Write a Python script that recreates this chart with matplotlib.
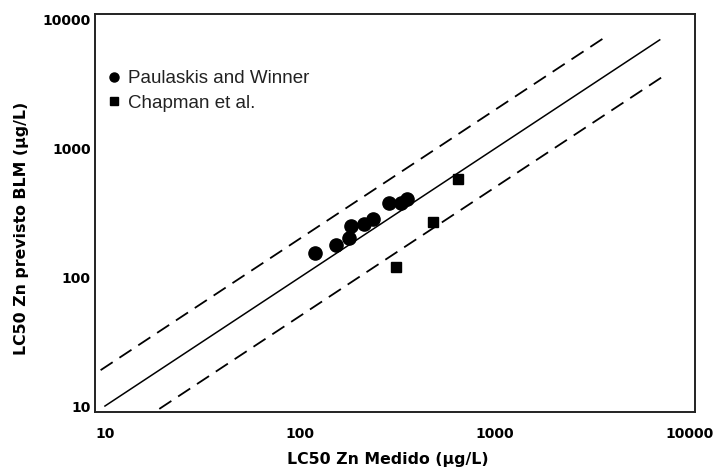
import matplotlib

matplotlib.use("Agg")
import matplotlib.pyplot as plt
from matplotlib.lines import Line2D
import numpy as np

# Paulaskis and Winner: measured vs BLM-predicted LC50 (ug/L)
pw_measured = [120, 153, 179, 183, 212, 237, 285, 331, 355]
pw_predicted = [155, 179, 201, 251, 258, 285, 380, 376, 408]

# Chapman et al.
ch_measured = [310, 480, 644]
ch_predicted = [120, 270, 581]

# 1:1 line and factor-of-two bounds
ref_range = [10, 7000]
upper_range = [9.5, 3600]
lower_range = [19, 7600]
factor = 2.0

ticks = [10, 100, 1000, 10000]
tick_labels = ["10", "100", "1000", "10000"]

fig = plt.figure(figsize=(7.22, 4.70), dpi=100)
ax = fig.add_axes([95 / 722, 1 - 411.7 / 470, 600 / 722, 397.7 / 470])

ax.set_xscale("log")
ax.set_yscale("log")
ax.set_xlim(10 ** 0.949, 10 ** 4.026)
ax.set_ylim(10 ** 0.956, 10 ** 4.046)

x = np.array(ref_range)
ax.plot(x, x, color="black", lw=1.1)
xu = np.array(upper_range)
ax.plot(xu, xu * factor, color="black", lw=1.3, dashes=(8, 4.5))
xl = np.array(lower_range)
ax.plot(xl, xl / factor, color="black", lw=1.3, dashes=(8, 4.5))

ax.plot(pw_measured, pw_predicted, "o", color="black", ms=9.5, ls="none")
ax.plot(ch_measured, ch_predicted, "s", color="black", ms=7.2, ls="none")

handles = [
    Line2D([], [], marker="o", color="black", ls="none", ms=6.5),
    Line2D([], [], marker="s", color="black", ls="none", ms=5.5),
]
leg = ax.legend(handles, ["Paulaskis and Winner", "Chapman et al."],
                loc="upper left", bbox_to_anchor=(0.012, 0.878), frameon=False,
                handlelength=0.5, handletextpad=0.45, labelspacing=0.4,
                borderaxespad=0, prop={"family": "Liberation Sans", "size": 13.5})
for t in leg.get_texts():
    t.set_color("#222222")

ax.minorticks_off()
ax.set_xticks(ticks)
ax.set_xticklabels(tick_labels)
ax.set_yticks(ticks)
ax.set_yticklabels(tick_labels)
ax.tick_params(axis="both", length=0, labelsize=10)
ax.tick_params(axis="x", pad=11)
ax.tick_params(axis="y", pad=3)
for lab in ax.get_xticklabels() + ax.get_yticklabels():
    lab.set_fontweight("bold")

for sp in ax.spines.values():
    sp.set_linewidth(1.4)
    sp.set_color("#222222")

ax.set_xlabel("LC50 Zn Medido (\u00b5g/L)", fontsize=11.3, fontweight="bold")
ax.xaxis.set_label_coords(0.488, -0.119)
ax.xaxis.label.set_verticalalignment("center")
ax.set_ylabel("LC50 Zn previsto BLM (\u00b5g/L)", fontsize=11.3, fontweight="bold")
ax.yaxis.set_label_coords(-0.122, 0.46)
ax.yaxis.label.set_verticalalignment("center")

fig.savefig("out.png", dpi=100)
